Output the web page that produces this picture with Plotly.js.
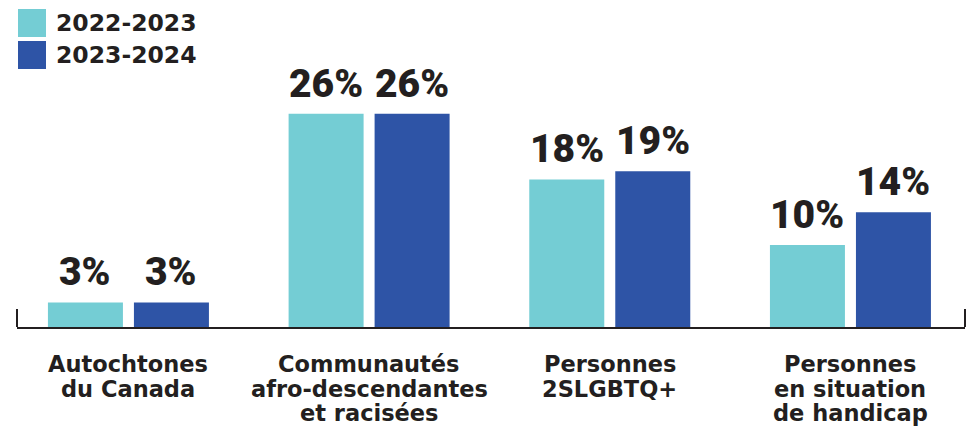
<!DOCTYPE html>
<html>
<head>
<meta charset="utf-8">
<script src="https://cdn.plot.ly/plotly-3.0.1.min.js"></script>
<style>html,body{margin:0;padding:0;background:#fff;}#chart{width:972px;height:430px;}</style>
</head>
<body>
<div id="chart"></div>
<script>
// Data
const categories = ["Autochtones<br>du Canada", "Communautés<br>afro-descendantes<br>et racisées", "Personnes<br>2SLGBTQ+", "Personnes<br>en situation<br>de handicap"];
const seriesNames = ["2022-2023", "2023-2024"];
const values2022 = [3, 26, 18, 10];
const values2023 = [3, 26, 19, 14];
const colors = ["#74CDD4", "#2E54A6"];

const W = 972, H = 430;
const M = {l: 17, r: 7, t: 10, b: 103};
const plotW = W - M.l - M.r, plotH = H - M.t - M.b;
const FONT = "DejaVu Sans";
const VFONT = "Roboto";
const INK = "#231f20";

const px2paperX = p => (p - M.l) / plotW;
const px2paperY = p => (H - M.b - p) / plotH;

const allSeries = [values2022, values2023];
const traces = allSeries.map((vals, i) => ({
  type: "bar",
  name: seriesNames[i],
  x: categories,
  y: vals,
  marker: {color: colors[i], line: {width: 0}},
  hoverinfo: "skip"
}));

const annotations = [];
// value labels
allSeries.forEach((vals, i) => {
  vals.forEach((v, j) => {
    annotations.push({
      x: categories[j], y: v, xref: "x", yref: "y",
      text: v + "%", showarrow: false,
      xanchor: "center", yanchor: "bottom",
      xshift: i === 0 ? -43 : 43, yshift: 5,
      font: {family: VFONT, size: 39, color: INK, weight: 900}
    });
  });
});
// category labels, one annotation per line
categories.forEach((c, j) => {
  c.split("<br>").forEach((line, k) => {
    annotations.push({
      x: c, y: 0, xref: "x", yref: "y",
      text: line, showarrow: false,
      xanchor: "center", yanchor: "top",
      yshift: -22 - 24.5 * k,
      font: {family: FONT, size: 22.5, color: INK, weight: "bold"}
    });
  });
});
// legend text
seriesNames.forEach((n, i) => {
  annotations.push({
    x: px2paperX(54), y: px2paperY(23 + 32 * i), xref: "paper", yref: "paper",
    text: n, showarrow: false, xanchor: "left", yanchor: "middle",
    font: {family: FONT, size: 23.5, color: INK, weight: "bold"}
  });
});

const shapes = [];
// legend swatches
seriesNames.forEach((n, i) => {
  shapes.push({
    type: "rect", xref: "paper", yref: "paper",
    x0: px2paperX(18), x1: px2paperX(46),
    y0: px2paperY(9 + 32 * i), y1: px2paperY(37 + 32 * i),
    fillcolor: colors[i], line: {width: 0}
  });
});
// end ticks on the axis
[0, 1].forEach(x => {
  shapes.push({
    type: "line", xref: "paper", yref: "paper",
    x0: x, x1: x, y0: 0, y1: 18 / plotH,
    line: {color: INK, width: 2}
  });
});

const layout = {
  width: W, height: H,
  margin: M,
  paper_bgcolor: "#fff", plot_bgcolor: "#fff",
  showlegend: false,
  barmode: "group",
  bargap: 0.2853,
  bargroupgap: 0.128,
  xaxis: {
    type: "category",
    range: [-0.463, 3.476],
    showticklabels: false, ticks: "",
    showline: true, linecolor: INK, linewidth: 2,
    showgrid: false, zeroline: false, fixedrange: true
  },
  yaxis: {
    range: [0, plotH / 8.2],
    visible: false, showgrid: false, zeroline: false, fixedrange: true
  },
  annotations: annotations,
  shapes: shapes
};

Plotly.newPlot("chart", traces, layout, {displayModeBar: false, staticPlot: true});
</script>
</body>
</html>
